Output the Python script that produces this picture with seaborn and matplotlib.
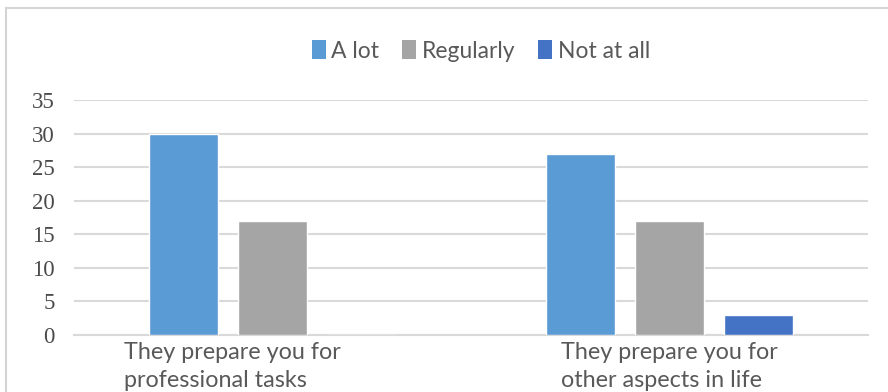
import matplotlib
matplotlib.use("Agg")
import matplotlib.pyplot as plt
import matplotlib.transforms as mtransforms
from matplotlib.patches import Rectangle
from matplotlib.font_manager import FontProperties
import seaborn as sns
import pandas as pd

categories = ["They prepare you for\nprofessional tasks",
              "They prepare you for\nother aspects in life"]
responses = ["A lot", "Regularly", "Not at all"]
a_lot = [30, 27]
regularly = [17, 17]
not_at_all = [0, 3]
y_ticks = [0, 5, 10, 15, 20, 25, 30, 35]
palette = ["#5B9BD5", "#A5A5A5", "#4472C4"]

df = pd.DataFrame({
    "category": categories * 3,
    "response": [r for r in responses for _ in categories],
    "count": a_lot + regularly + not_at_all,
})

sns.set_theme(style="white")
plt.rcParams["font.family"] = ["Lato", "DejaVu Sans"]

fig = plt.figure(figsize=(8.88, 3.92), dpi=100)
fig.patch.set_facecolor("white")
# chart frame (right and bottom edges fall outside the canvas)
fig.add_artist(Rectangle((6 / 888, -0.1), 1.2, 1 - 8 / 392 + 0.1,
                         transform=fig.transFigure, fill=False,
                         edgecolor="#D4D4D4", linewidth=1.5))

ax = fig.add_axes([74 / 888, 1 - 335 / 392, (868 - 74) / 888, (335 - 100) / 392])
sns.barplot(data=df, x="category", y="count", hue="response",
            hue_order=responses, palette=palette, width=0.672, gap=0.22,
            saturation=1, ax=ax, legend=False, zorder=3)

ax.set_xlim(-0.5, 1.5)
ax.set_ylim(0, 35)
ax.set_yticks(y_ticks)
ax.set_yticklabels([str(t) for t in y_ticks])
ax.tick_params(axis="y", length=0, pad=14, labelcolor="#4A4A4A")
ax.yaxis.grid(True, color="#D9D9D9", linewidth=1.5, zorder=0)
ax.set_axisbelow(True)
for s in ["top", "right", "left"]:
    ax.spines[s].set_visible(False)
ax.spines["bottom"].set_color("#D9D9D9")
ax.spines["bottom"].set_linewidth(1.5)
ax.tick_params(axis="x", length=0, pad=5, labelsize=16.8, labelcolor="#595959")
shifts = [-40, 0]
for lbl, dx in zip(ax.get_xticklabels(), shifts):
    lbl.set_linespacing(1.4)
    lbl.set_multialignment("left")
    lbl.set_transform(lbl.get_transform() +
                      mtransforms.ScaledTranslation(dx / 100, 0, fig.dpi_scale_trans))
ax.set_xlabel("")
ax.set_ylabel("")

handles = [Rectangle((0, 0), 1, 1, facecolor=c, edgecolor="none") for c in palette]
fig.legend(handles, responses, loc="center", bbox_to_anchor=(481 / 888, 1 - 51 / 392),
           ncol=3, frameon=False, fontsize=16.5, labelcolor="#595959",
           handlelength=0.6, handleheight=0.9, handletextpad=0.25, columnspacing=1.0)

# serif numerals on the value axis
fig.canvas.draw()
serif = FontProperties(family="Liberation Serif", size=16.5)
for lbl in ax.get_yticklabels():
    lbl.set_fontproperties(serif)

fig.savefig("out.png", dpi=100, facecolor="white")
